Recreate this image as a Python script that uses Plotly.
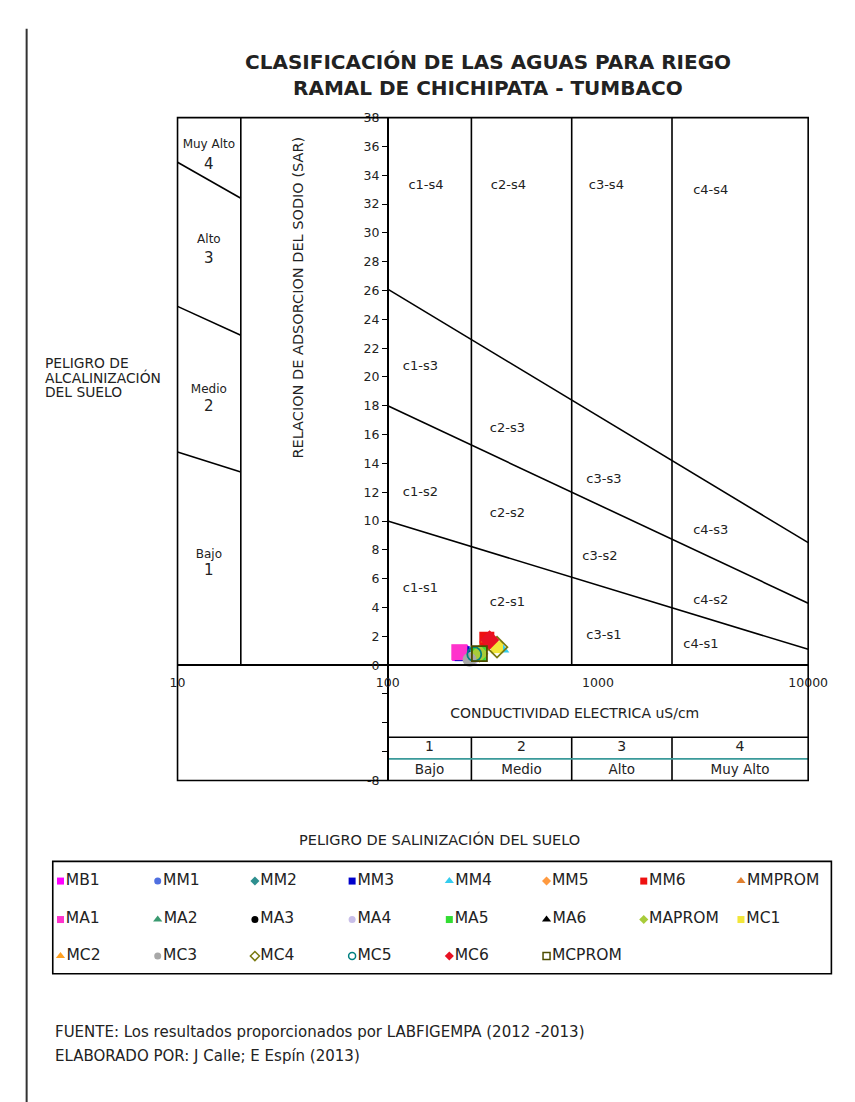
import plotly.graph_objects as go

W, H = 855, 1102

# ---------------- data ----------------
names = ["MB1", "MM1", "MM2", "MM3", "MM4", "MM5", "MM6", "MMPROM",
         "MA1", "MA2", "MA3", "MA4", "MA5", "MA6", "MAPROM", "MC1",
         "MC2", "MC3", "MC4", "MC5", "MC6", "MCPROM"]
ec = [221, 234, 256, 226, 347, 300, 296, 272,
      219, 273, 245, 250, 270, 245, 273, 331,
      298, 245, 331, 258, 305, 273]
sar = [0.85, 0.78, 0.72, 0.80, 1.12, 1.60, 1.80, 0.80,
       0.90, 0.80, 0.38, 0.42, 0.80, 0.38, 0.80, 1.25,
       1.80, 0.38, 1.25, 0.76, 1.75, 0.80]

# class boundaries
sal_bounds = [250, 750, 2250]
sar_bound_at_100 = [10.0, 18.0, 26.1]
sar_bound_at_10000 = [1.1, 4.3, 8.5]
alk_bound_at_10 = [14.8, 24.9, 34.9]
alk_bound_at_20 = [13.4, 22.9, 32.4]

zone_labels = ["c1-s4", "c2-s4", "c3-s4", "c4-s4",
               "c1-s3", "c2-s3", "c3-s3", "c4-s3",
               "c1-s2", "c2-s2", "c3-s2", "c4-s2",
               "c1-s1", "c2-s1", "c3-s1", "c4-s1"]
zone_ec = [152, 375, 1096, 3440,
           143, 371, 1067, 3440,
           143, 371, 1022, 3440,
           143, 371, 1067, 3090]
zone_sar = [33.3, 33.3, 33.3, 32.9,
            20.7, 16.4, 12.9, 9.3,
            12.0, 10.5, 7.5, 4.5,
            5.3, 4.3, 2.05, 1.45]

alk_labels = ["Muy Alto", "4", "Alto", "3", "Medio", "2", "Bajo", "1"]
alk_label_sar = [36.1, 34.7, 29.5, 28.2, 19.1, 17.9, 7.65, 6.5]

sal_nums = ["1", "2", "3", "4"]
sal_names = ["Bajo", "Medio", "Alto", "Muy Alto"]
sal_centers = [158, 433, 1299, 4743]

y_tick_vals = list(range(-8, 39, 2))
y_tick_text = [str(v) if (v >= 0 or v == -8) else "" for v in y_tick_vals]
x_tick_vals = [10, 100, 1000, 10000]
x_tick_text = ["10", "100", "1000", "10000"]

# ---------------- styles ----------------
symbols = ["square", "circle", "diamond", "square", "triangle-up", "diamond", "square", "triangle-up",
           "square", "triangle-up", "circle", "circle", "square", "triangle-up", "diamond", "square",
           "triangle-up", "circle", "diamond-open", "circle-open", "diamond", "square-open"]
colors = ["#FF00FF", "#4F6FE0", "#2E8F8F", "#0000CC", "#33CCEE", "#FF9A40", "#EE1111", "#E08030",
          "#FF33CC", "#3A9A70", "#000000", "#C8BEE8", "#33DD33", "#000000", "#A8CC3A", "#F2E63A",
          "#FFA020", "#A8A8A8", "#7A7A10", "#008080", "#E81123", "#4D4D00"]
plot_sizes = [16, 14, 14, 15, 14, 14, 15, 12,
              16, 12, 12, 14, 15, 9, 14, 12,
              12, 14, 16, 14, 15, 15]

FONT = "DejaVu Sans"
TXT = "#222222"

# geometry (pixels of the page)
px_l, px_r, px_t, px_b = 167, 819, 103, 775
xd = [px_l / W, px_r / W]
yd = [1 - px_b / H, 1 - px_t / H]
ypos = xd[0] + (2 - 1) / 3 * (xd[1] - xd[0])          # y axis sits at EC = 100
xpos = yd[0] + (0 - (-8)) / 46 * (yd[1] - yd[0])       # x axis sits at SAR = 0


def px(x):
    return x / W


def py(y):
    return 1 - y / H


fig = go.Figure()

LINE = dict(color="black", width=1.6)

# left panel divider (EC=20) and salinity class dividers
lx, ly = [20, 20, None], [0, 38, None]
for b in sal_bounds:
    lx += [b, b, None, b, b, None]
    ly += [0, 38, None, -8, -5, None]
fig.add_trace(go.Scatter(x=lx, y=ly, mode="lines", line=LINE, hoverinfo="skip", showlegend=False))

# sodium hazard boundaries
dx, dy = [], []
for a, b in zip(sar_bound_at_100, sar_bound_at_10000):
    dx += [100, 10000, None]
    dy += [a, b, None]
for a, b in zip(alk_bound_at_10, alk_bound_at_20):
    dx += [10, 20, None]
    dy += [a, b, None]
fig.add_trace(go.Scatter(x=dx, y=dy, mode="lines", line=LINE, hoverinfo="skip", showlegend=False))

# table lines
fig.add_trace(go.Scatter(x=[100, 10000], y=[-5, -5], mode="lines", line=LINE,
                         hoverinfo="skip", showlegend=False))
fig.add_trace(go.Scatter(x=[100, 10000], y=[-6.5, -6.5], mode="lines",
                         line=dict(color="#3A9A9A", width=1.6), hoverinfo="skip", showlegend=False))

# zone labels
fig.add_trace(go.Scatter(x=zone_ec, y=zone_sar, mode="text", text=zone_labels,
                         textfont=dict(family=FONT, size=13, color=TXT),
                         hoverinfo="skip", showlegend=False))

# alkalinity panel labels
alk_sizes = [12 if len(t) > 1 else 15 for t in alk_labels]
fig.add_trace(go.Scatter(x=[14.1] * len(alk_labels), y=alk_label_sar, mode="text", text=alk_labels,
                         textfont=dict(family=FONT, size=alk_sizes, color=TXT),
                         hoverinfo="skip", showlegend=False))

# salinity table labels
fig.add_trace(go.Scatter(x=sal_centers, y=[-5.7] * 4, mode="text", text=sal_nums,
                         textfont=dict(family=FONT, size=14, color=TXT),
                         hoverinfo="skip", showlegend=False))
fig.add_trace(go.Scatter(x=sal_centers, y=[-7.35] * 4, mode="text", text=sal_names,
                         textfont=dict(family=FONT, size=13.5, color=TXT),
                         hoverinfo="skip", showlegend=False))
fig.add_trace(go.Scatter(x=[775], y=[-3.45], mode="text", text=["CONDUCTIVIDAD ELECTRICA uS/cm"],
                         textfont=dict(family=FONT, size=14, color=TXT),
                         hoverinfo="skip", showlegend=False))

# data points
for n, x, y, s, c, sz in zip(names, ec, sar, symbols, colors, plot_sizes):
    open_ = s.endswith("-open")
    fig.add_trace(go.Scatter(
        x=[x], y=[y], mode="markers", name=n, showlegend=False, cliponaxis=False,
        marker=dict(symbol=s, size=sz, color=c,
                    line=dict(width=1.8 if open_ else 0, color=c))))

# manual legend (second pair of axes)
leg_box = [38, 843, 857, 971]
cols = 8
lgx, lgy = [], []
for i in range(len(names)):
    r, c = divmod(i, cols)
    lgx.append(8 + 100.5 * c)
    lgy.append([20, 59, 96][r])
for n, x, y, s, c in zip(names, lgx, lgy, symbols, colors):
    open_ = s.endswith("-open")
    fig.add_trace(go.Scatter(
        x=[x], y=[y], mode="markers+text", text=[n], textposition="middle right",
        textfont=dict(family=FONT, size=15.5, color=TXT), cliponaxis=False,
        xaxis="x2", yaxis="y2", showlegend=False, hoverinfo="skip",
        marker=dict(symbol=s, size=7 if "triangle" not in s else 8, color=c,
                    line=dict(width=1.5 if open_ else 0, color=c))))

shapes = [
    dict(type="rect", xref="paper", yref="paper", x0=xd[0], x1=xd[1], y0=yd[0], y1=yd[1],
         line=dict(color="black", width=1.6), layer="above"),
    dict(type="rect", xref="paper", yref="paper", x0=px(leg_box[0]), x1=px(leg_box[1]),
         y0=py(leg_box[3]), y1=py(leg_box[2]), line=dict(color="black", width=1.6)),
    dict(type="line", xref="paper", yref="paper", x0=px(11), x1=px(11), y0=py(13), y1=0,
         line=dict(color="#333333", width=2)),
]

annotations = [
    dict(text="<b>CLASIFICACIÓN DE LAS AGUAS PARA RIEGO</b>", x=px(488), y=py(47),
         xref="paper", yref="paper", showarrow=False, xanchor="center", yanchor="middle",
         font=dict(family=FONT, size=20, color=TXT)),
    dict(text="<b>RAMAL DE CHICHIPATA - TUMBACO</b>", x=px(488), y=py(73),
         xref="paper", yref="paper", showarrow=False, xanchor="center", yanchor="middle",
         font=dict(family=FONT, size=20, color=TXT)),
    dict(text="RELACION DE ADSORCION DEL SODIO (SAR)", x=px(292), y=py(285), textangle=-90,
         xref="paper", yref="paper", showarrow=False, xanchor="center", yanchor="middle",
         font=dict(family=FONT, size=14.5, color=TXT)),
    dict(text="PELIGRO DE SALINIZACIÓN DEL SUELO", x=px(438), y=py(835),
         xref="paper", yref="paper", showarrow=False, xanchor="center", yanchor="middle",
         font=dict(family=FONT, size=14.5, color=TXT)),
    dict(text="FUENTE: Los resultados proporcionados por LABFIGEMPA (2012 -2013)", x=px(38), y=py(1030),
         xref="paper", yref="paper", showarrow=False, xanchor="left", yanchor="middle",
         font=dict(family=FONT, size=15, color=TXT)),
    dict(text="ELABORADO POR: J Calle; E Espín (2013)", x=px(38), y=py(1054),
         xref="paper", yref="paper", showarrow=False, xanchor="left", yanchor="middle",
         font=dict(family=FONT, size=15, color=TXT)),
]
for i, t in enumerate(["PELIGRO DE", "ALCALINIZACIÓN", "DEL SUELO"]):
    annotations.append(dict(text=t, x=px(28), y=py(352 + 14.5 * i), xref="paper", yref="paper",
                            showarrow=False, xanchor="left", yanchor="middle",
                            font=dict(family=FONT, size=13.8, color=TXT)))

fig.update_layout(
    width=W, height=H, autosize=False,
    margin=dict(l=0, r=0, t=0, b=0),
    paper_bgcolor="white", plot_bgcolor="white",
    showlegend=False,
    xaxis=dict(type="log", range=[1, 4], domain=xd, anchor="free", position=xpos,
               showgrid=False, zeroline=False, showline=True, linecolor="black", linewidth=1.6,
               tickvals=x_tick_vals, ticktext=x_tick_text, ticks="", ticklabelstandoff=6,
               tickfont=dict(family=FONT, size=12.5, color=TXT), fixedrange=True),
    yaxis=dict(range=[-8, 38], domain=yd, anchor="free", position=ypos,
               showgrid=False, zeroline=False, showline=True, linecolor="black", linewidth=1.6,
               tickvals=y_tick_vals, ticktext=y_tick_text, ticks="outside", ticklen=5,
               tickcolor="black", tickwidth=1,
               tickfont=dict(family=FONT, size=12.5, color=TXT), fixedrange=True),
    xaxis2=dict(domain=[px(leg_box[0]), px(leg_box[1])], range=[0, leg_box[1] - leg_box[0]],
                anchor="y2", visible=False, fixedrange=True),
    yaxis2=dict(domain=[py(leg_box[3]), py(leg_box[2])], range=[leg_box[3] - leg_box[2], 0],
                anchor="x2", visible=False, fixedrange=True),
    shapes=shapes,
    annotations=annotations,
)

fig.write_html("out.html")
